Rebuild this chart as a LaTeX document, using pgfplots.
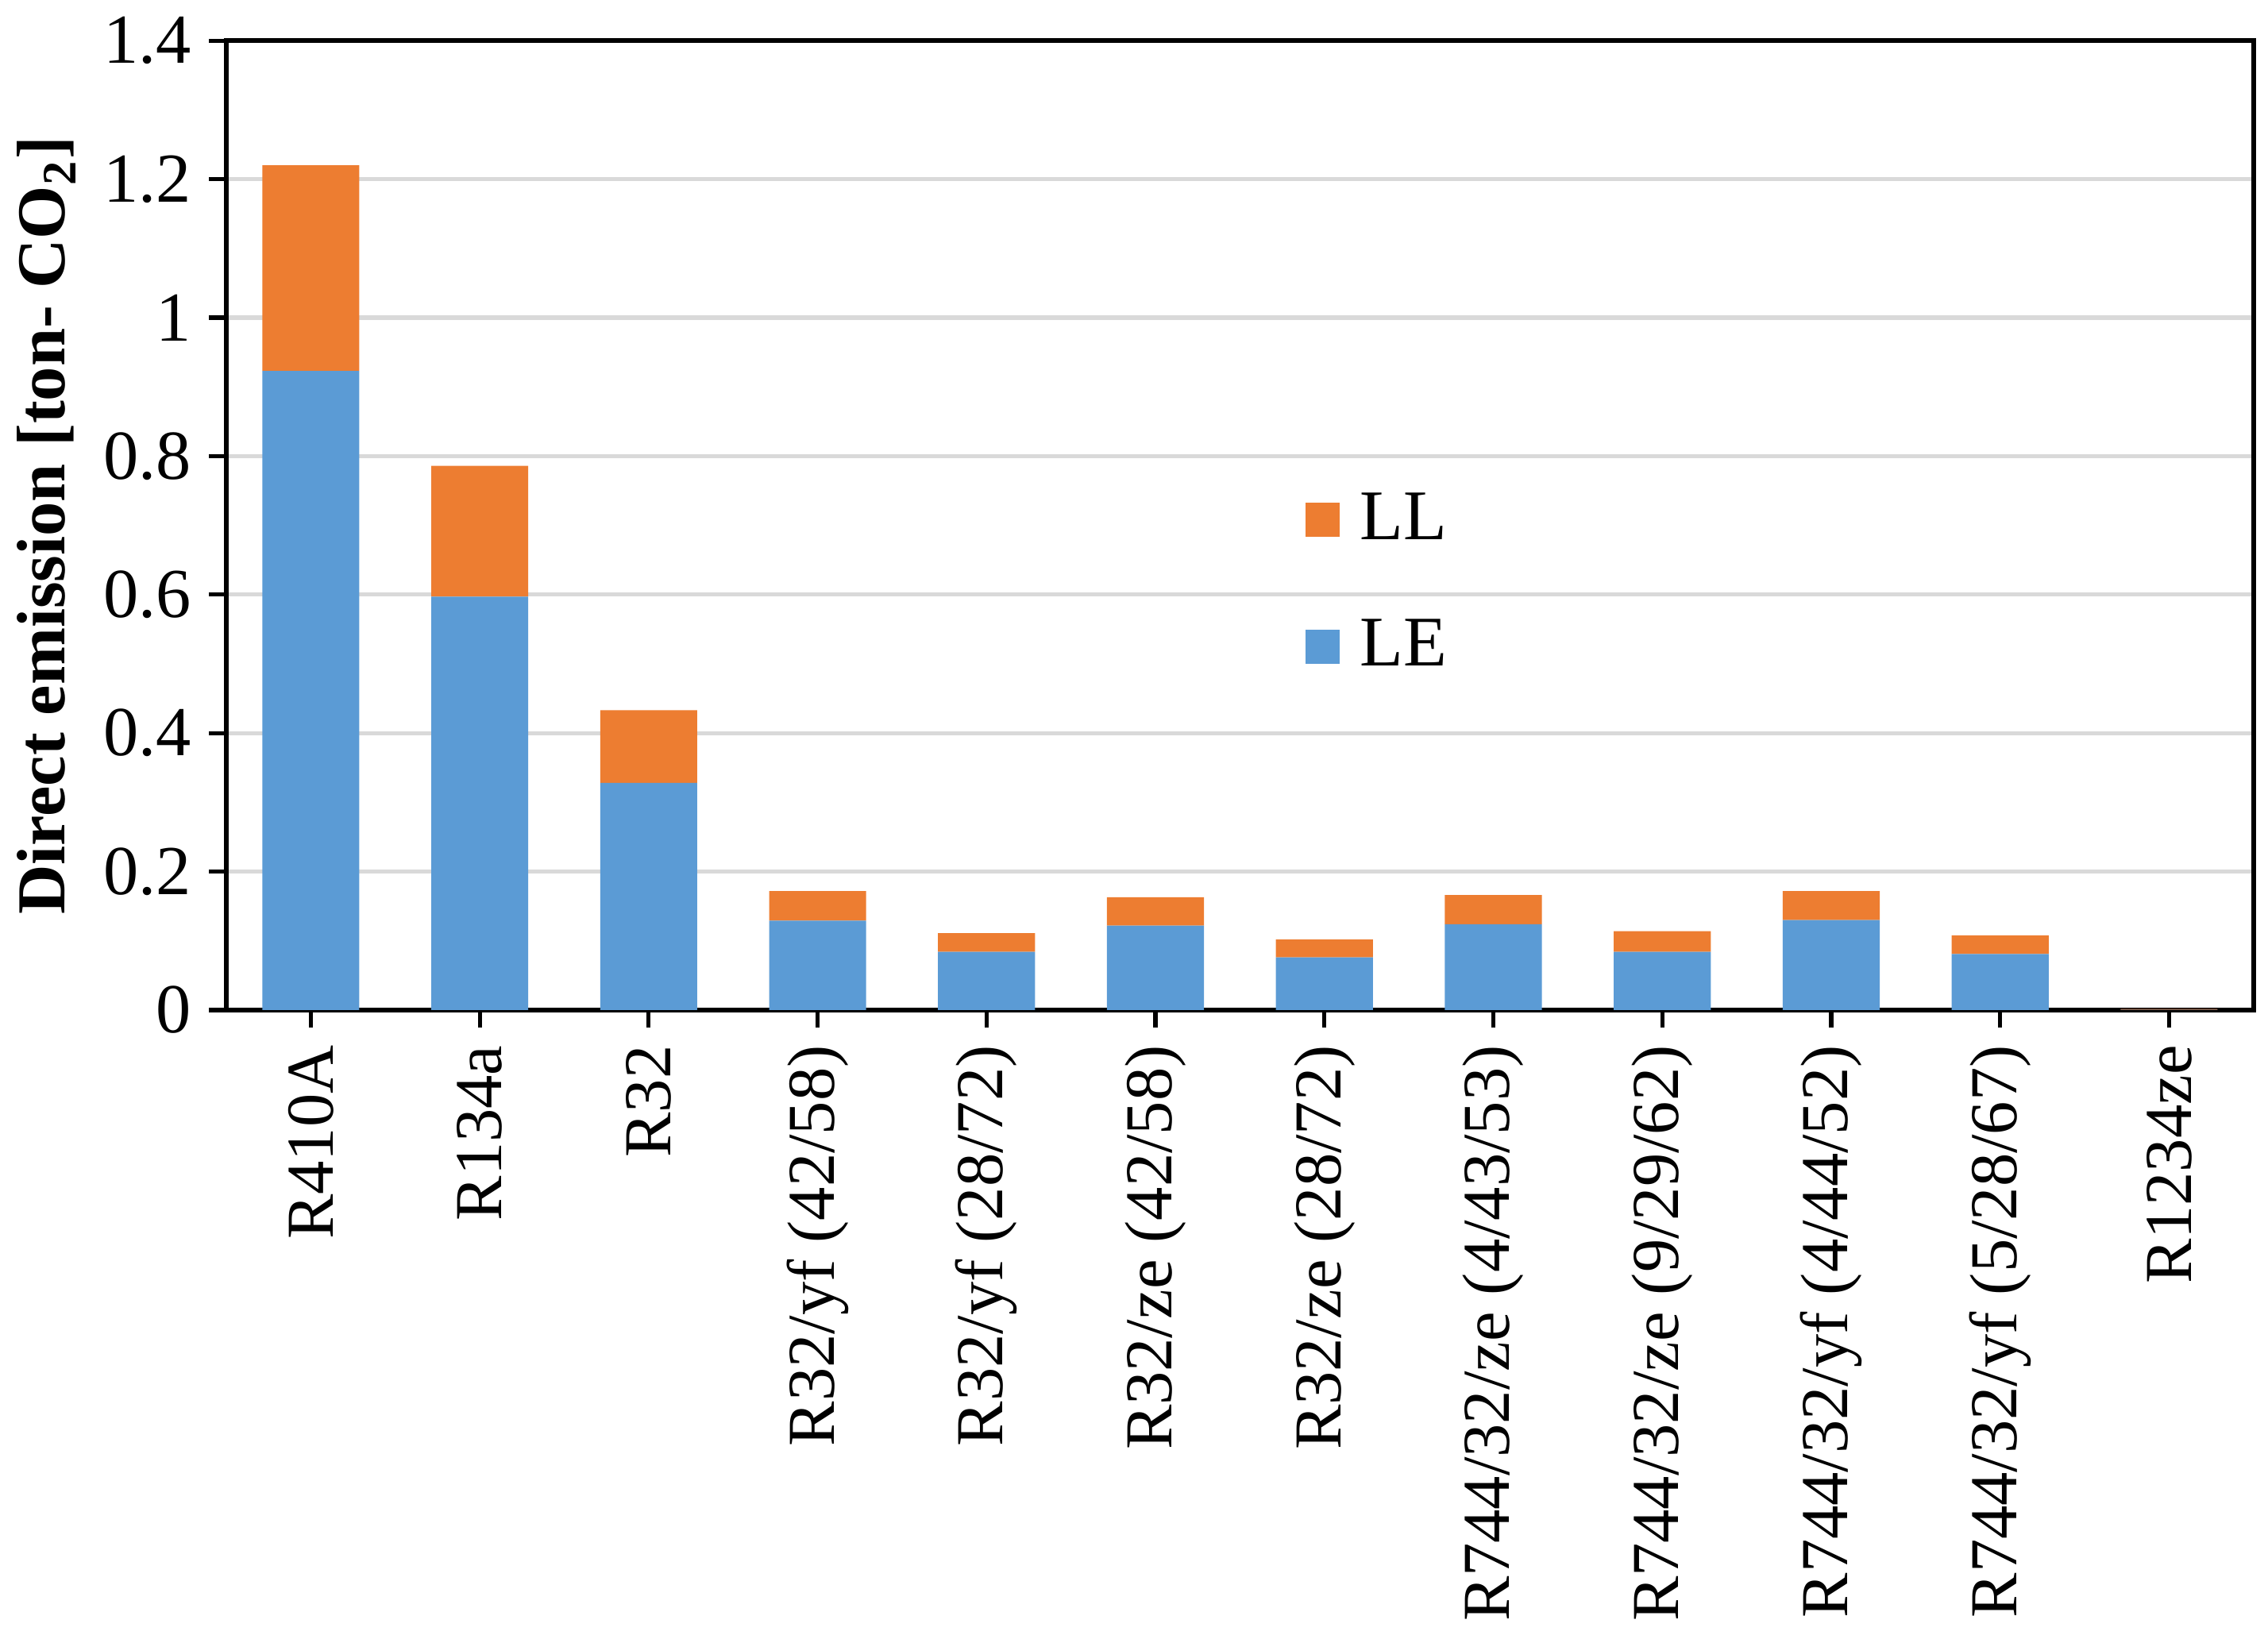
\documentclass[border=0pt]{standalone}
\usepackage{pgfplots}
\pgfplotsset{compat=1.18}
\usepackage{fontspec}
\setmainfont{Liberation Serif}
\definecolor{leblue}{HTML}{5B9BD5}
\definecolor{llorange}{HTML}{ED7D31}
\definecolor{gridgray}{HTML}{D9D9D9}
\begin{document}
\begin{tikzpicture}
\begin{axis}[
  scale only axis,
  width=14.01cm, height=6.70cm,
  ybar stacked, bar width=0.67cm,
  xmin=-0.5, xmax=11.5, ymin=0, ymax=1.4,
  xtick={0,1,2,3,4,5,6,7,8,9,10,11},
  xticklabels={R410A,R134a,R32,R32/yf (42/58),R32/yf (28/72),R32/ze (42/58),R32/ze (28/72),R744/32/ze (4/43/53),R744/32/ze (9/29/62),R744/32/yf (4/44/52),R744/32/yf (5/28/67),R1234ze},
  x tick label style={rotate=90, anchor=east, font=\fontsize{13.2}{16}\selectfont},
  ytick={0,0.2,0.4,0.6,0.8,1,1.2,1.4},
  y tick label style={font=\fontsize{13.8}{16}\selectfont},
  /pgf/number format/assume math mode=true,
  ymajorgrids, grid style={gridgray, line width=0.8pt},
  tick pos=left, tick align=outside, major tick length=0.12cm,
  tick style={black, line width=0.8pt},
  axis line style={black, line width=1pt},
  ylabel={\textbf{Direct emission [ton- CO\textsubscript{2}]}},
  ylabel style={font=\fontsize{13.5}{16}\selectfont, yshift=-0.05cm},
  reverse legend,
  legend style={draw=none, fill=none, at={(0.532,0.545)}, anchor=north west,
    font=\fontsize{14}{16}\selectfont, row sep=0.36cm, inner sep=0pt,
    /tikz/every odd column/.append style={column sep=0.07cm}},
  legend cell align=left,
  legend image code/.code={\fill[#1] (0cm,-0.118cm) rectangle (0.236cm,0.118cm);},
  after end axis/.code={\path (rel axis cs:1,0) ++(0.1cm,0);},
]
\addplot[fill=leblue, draw=none] coordinates {
 (0,0.923) (1,0.597) (2,0.328) (3,0.129) (4,0.084) (5,0.122)
 (6,0.076) (7,0.124) (8,0.084) (9,0.130) (10,0.081) (11,0.0004)};
\addlegendentry{LE}
\addplot[fill=llorange, draw=none] coordinates {
 (0,0.297) (1,0.189) (2,0.105) (3,0.043) (4,0.027) (5,0.041)
 (6,0.026) (7,0.042) (8,0.030) (9,0.042) (10,0.027) (11,0.0012)};
\addlegendentry{LL}
\end{axis}
\end{tikzpicture}
\end{document}
